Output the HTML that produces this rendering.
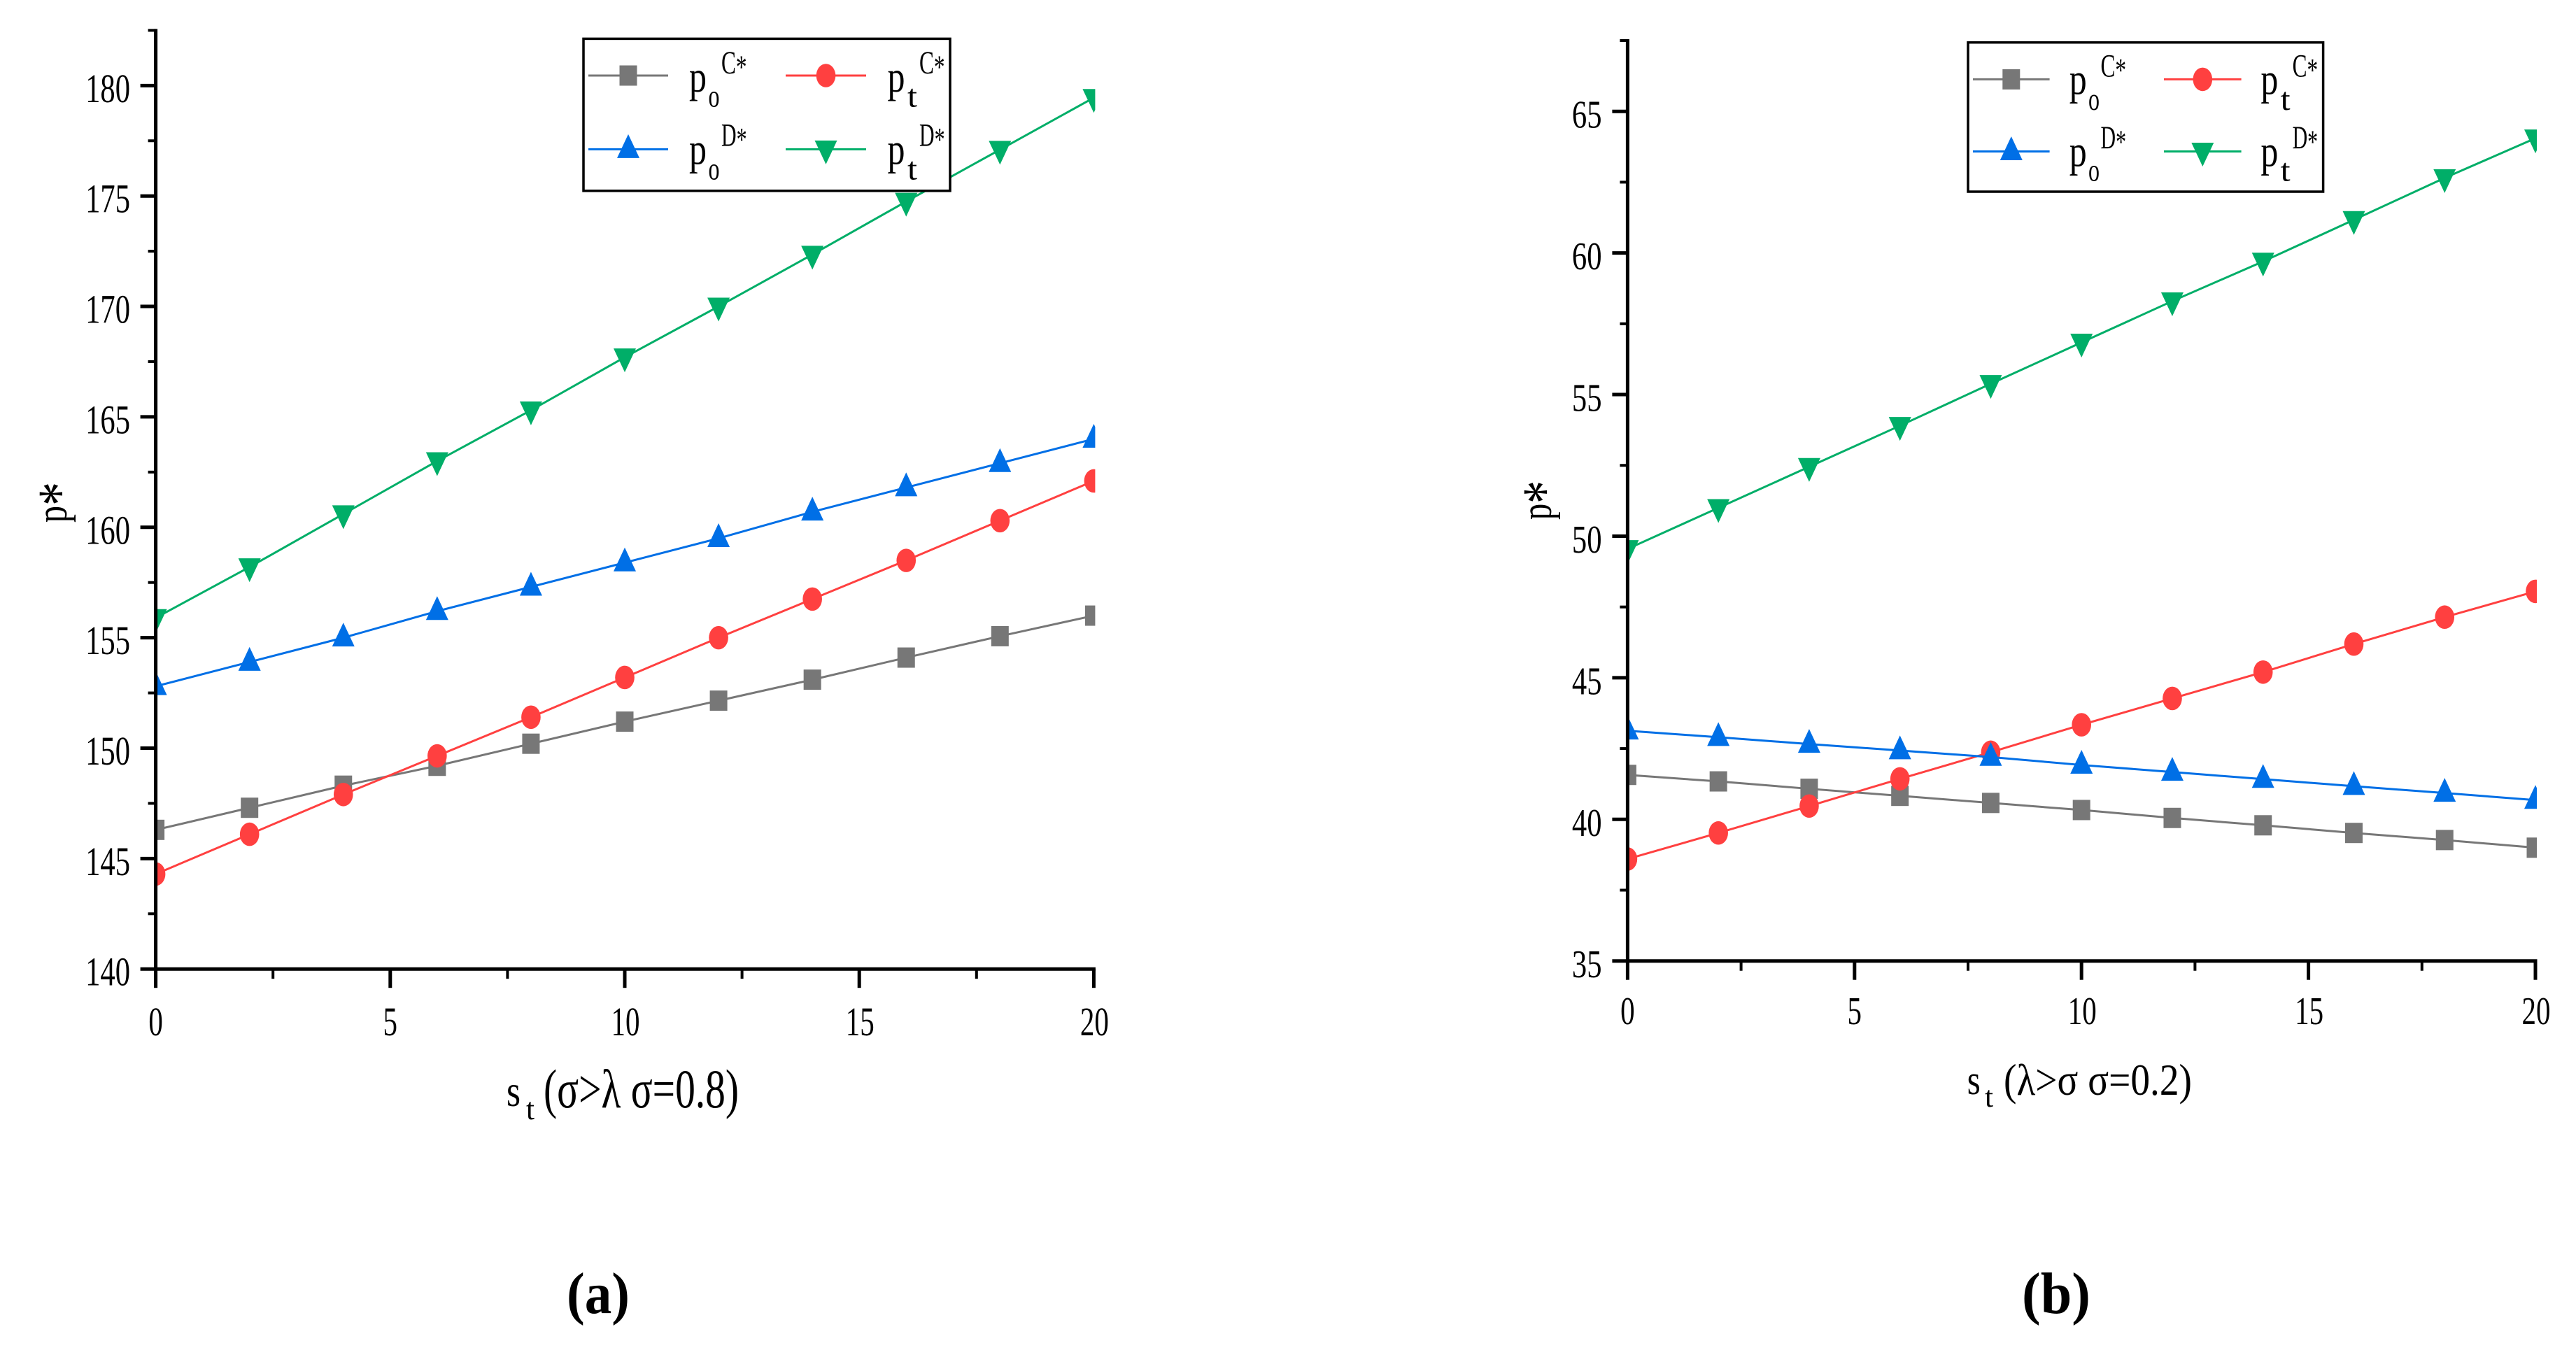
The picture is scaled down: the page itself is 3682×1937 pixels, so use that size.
<!DOCTYPE html>
<html lang="en">
<head>
<meta charset="utf-8">
<title>Optimal prices p* versus st</title>
<style>
html,body{margin:0;padding:0;background:#fff;}
body{width:3682px;height:1937px;overflow:hidden;}
svg{display:block;}
text{font-family:"Liberation Serif","DejaVu Serif",serif;fill:#000;}
</style>
</head>
<body>
<svg id="figure" xmlns="http://www.w3.org/2000/svg" width="3682" height="1937" viewBox="0 0 3682 1937">
<rect x="0" y="0" width="3682" height="1937" fill="#ffffff"></rect>
</svg>
<script>
const stValues = [0, 2, 4, 6, 8, 10, 12, 14, 16, 18, 20];

const panelAPoC = [146.3, 147.3, 148.3, 149.2, 150.2, 151.2, 152.15, 153.1, 154.1, 155.07, 156.0];
const panelAPtC = [144.3, 146.1, 147.9, 149.65, 151.4, 153.2, 155.0, 156.75, 158.5, 160.3, 162.1];
const panelAPoD = [152.8, 153.9, 155.0, 156.2, 157.3, 158.4, 159.5, 160.7, 161.8, 162.9, 164.0];
const panelAPtD = [155.9, 158.2, 160.6, 163.0, 165.3, 167.7, 170.0, 172.35, 174.75, 177.1, 179.45];

const panelBPoC = [41.57, 41.34, 41.08, 40.83, 40.58, 40.33, 40.05, 39.79, 39.52, 39.27, 39.0];
const panelBPtC = [38.6, 39.52, 40.47, 41.43, 42.37, 43.34, 44.27, 45.2, 46.19, 47.14, 48.05];
const panelBPoD = [43.13, 42.9, 42.66, 42.43, 42.2, 41.92, 41.67, 41.42, 41.17, 40.93, 40.68];
const panelBPtD = [49.55, 51.0, 52.45, 53.9, 55.38, 56.84, 58.3, 59.7, 61.17, 62.65, 64.05];

const panelAYTicks = [140, 145, 150, 155, 160, 165, 170, 175, 180];
const panelBYTicks = [35, 40, 45, 50, 55, 60, 65];
const panelXTicks = [0, 5, 10, 15, 20];

const panelAYMax = 182.5;
const panelBYMax = 67.5;

const svgNS = 'http://www.w3.org/2000/svg';
const figure = document.getElementById('figure');

const COLORS = { gray: '#777777', red: '#ff4040', blue: '#006fe6', green: '#00ae68' };

function make(tag, parent, attrs, name) {
  const el = document.createElementNS(svgNS, tag);
  for (const k in attrs) el.setAttribute(k, attrs[k]);
  
  
  parent.appendChild(el);
  return el;
}

function label(parent, str, x, y, size, length, anchor, name, extra) {
  const attrs = { x: x, y: y, 'font-size': size, 'text-anchor': anchor, textLength: length, lengthAdjust: 'spacingAndGlyphs' };
  if (extra) for (const k in extra) attrs[k] = extra[k];
  const t = make('text', parent, attrs, name);
  t.textContent = str;
  return t;
}

function starTspan(textEl, size, dy, name) {
  const s = make('tspan', textEl, { 'font-size': size, dy: dy }, name);
  s.textContent = '*';
  return s;
}

function marker(parent, kind, cx, cy, color, name) {
  if (kind === 'square') {
    make('rect', parent, { x: cx - 12.5, y: cy - 14.5, width: 25, height: 29, fill: color }, name);
  } else if (kind === 'circle') {
    make('ellipse', parent, { cx: cx, cy: cy, rx: 13.8, ry: 16.8, fill: color }, name);
  } else if (kind === 'up') {
    const pts = (cx - 16) + ',' + (cy + 12.5) + ' ' + (cx + 16) + ',' + (cy + 12.5) + ' ' + cx + ',' + (cy - 21.5);
    make('polygon', parent, { points: pts, fill: color }, name);
  } else {
    const pts = (cx - 16) + ',' + (cy - 12.5) + ' ' + (cx + 16) + ',' + (cy - 12.5) + ' ' + cx + ',' + (cy + 21.5);
    make('polygon', parent, { points: pts, fill: color }, name);
  }
}

function drawPanel(p) {
  const g = make('g', figure, {}, p.id);
  const xScale = v => p.xl + (v - stValues[0]) * (p.xr - p.xl) / (stValues[stValues.length - 1] - stValues[0]);
  const yScale = v => p.yb - (v - p.yTicks[0]) * (p.yb - p.yt) / (p.yMax - p.yTicks[0]);

  const clipId = p.id + '-clip';
  const defs = make('defs', g, {}, p.id + '-defs');
  const clip = make('clipPath', defs, { id: clipId }, p.id + '-clip-region');
  make('rect', clip, { x: p.xl, y: 0, width: p.xr - p.xl + 2, height: 1937 }, p.id + '-clip-rect');

  const plot = make('g', g, { 'clip-path': 'url(#' + clipId + ')' }, p.id + '-plot-area');
  p.series.forEach(s => {
    const sg = make('g', plot, {}, p.id + '-series-' + s.key);
    const pts = stValues.map((st, i) => xScale(st).toFixed(2) + ',' + yScale(s.values[i]).toFixed(2)).join(' ');
    make('polyline', sg, { points: pts, fill: 'none', stroke: s.color, 'stroke-width': 3 }, s.key + '-line');
    stValues.forEach((st, i) => {
      marker(sg, s.kind, xScale(st), yScale(s.values[i]), s.color, s.key + '-point-' + st);
    });
  });

  // Axes
  const axes = make('g', g, {}, p.id + '-axes');
  make('line', axes, { x1: p.xl, y1: p.yt - 2, x2: p.xl, y2: p.yb + 2.5, stroke: '#000', 'stroke-width': 5 }, 'y-axis-line');
  make('line', axes, { x1: p.xl - 2.5, y1: p.yb, x2: p.xr + 2.5, y2: p.yb, stroke: '#000', 'stroke-width': 5 }, 'x-axis-line');

  p.yTicks.forEach((v, i) => {
    const y = yScale(v);
    make('line', axes, { x1: p.xl - 22, y1: y, x2: p.xl, y2: y, stroke: '#000', 'stroke-width': 5 }, 'y-tick-' + v);
    label(axes, String(v), p.yLabelRight, y + 23.5, p.tickFont, String(v).length * 21.3, 'end', 'y-tick-label-' + v);
    const next = i + 1 < p.yTicks.length ? p.yTicks[i + 1] : p.yMax + (p.yMax - v);
    const mid = (v + next) / 2;
    const ym = yScale(mid);
    make('line', axes, { x1: p.xl - 11, y1: ym, x2: p.xl, y2: ym, stroke: '#000', 'stroke-width': 4 }, 'y-minor-tick-' + mid);
  });

  panelXTicks.forEach((v, i) => {
    const x = xScale(v);
    make('line', axes, { x1: x, y1: p.yb, x2: x, y2: p.yb + 27, stroke: '#000', 'stroke-width': 5 }, 'x-tick-' + v);
    label(axes, String(v), x + (v >= 10 ? 1 : 0), p.xLabelBase, p.tickFont, String(v).length * 20.5, 'middle', 'x-tick-label-' + v);
    if (i + 1 < panelXTicks.length) {
      const mid = (v + panelXTicks[i + 1]) / 2;
      const xm = xScale(mid);
      make('line', axes, { x1: xm, y1: p.yb, x2: xm, y2: p.yb + 14, stroke: '#000', 'stroke-width': 4 }, 'x-minor-tick-' + mid);
    }
  });

  // Axis titles
  const xt = make('g', g, {}, 'x-axis-title');
  label(xt, 's', p.xTitle.sx, p.xTitle.sBase, p.xTitle.sSize, p.xTitle.sLen, 'start', 'x-title-s');
  label(xt, 't', p.xTitle.tx, p.xTitle.tBase, p.xTitle.tSize, p.xTitle.tLen, 'start', 'x-title-subscript-t');
  label(xt, p.xTitle.text, p.xTitle.px, p.xTitle.pBase, p.xTitle.pSize, p.xTitle.pLen, 'start', 'x-title-condition');

  const yTitle = label(g, 'p', 0, 0, 62, p.yTitleLen, 'middle', 'y-axis-title', { transform: 'translate(' + p.yTitleX + ',' + p.yTitleY + ') rotate(-90)' });
  starTspan(yTitle, 88, p.yTitleStarDy, 'y-axis-title-star');

  // Legend
  const L = p.legend;
  const lg = make('g', g, {}, 'legend');
  make('rect', lg, { x: L.left, y: L.top, width: L.right - L.left, height: L.bottom - L.top, fill: '#fff', stroke: '#000', 'stroke-width': 3.5 }, 'legend-box');
  L.entries.forEach(e => {
    const eg = make('g', lg, {}, 'legend-entry-' + e.key);
    make('line', eg, { x1: e.x1, y1: e.y, x2: e.x2, y2: e.y, stroke: e.color, 'stroke-width': 3 }, 'legend-line-' + e.key);
    marker(eg, e.kind, (e.x1 + e.x2) / 2, e.y, e.color, 'legend-marker-' + e.key);
    label(eg, 'p', e.px, e.pBase, 63, 25, 'start', 'legend-label-p-' + e.key);
    label(eg, e.sub, e.subx, e.subBase, 46, e.subLen, 'start', 'legend-label-sub-' + e.key);
    const sup = label(eg, e.sup, e.supx, e.supBase, 47, e.supLen, 'start', 'legend-label-sup-' + e.key);
    starTspan(sup, 47, 6, 'legend-label-star-' + e.key);
  });

  label(g, p.caption, p.captionX, 1877, 84, p.captionLen, 'start', 'panel-caption', { 'font-weight': 'bold' });
}

function legendEntries(c) {
  const rows = [
    { key: 'po-c', sub: 'o', sup: 'C', kind: 'square', color: COLORS.gray, col: 0, row: 0 },
    { key: 'pt-c', sub: 't', sup: 'C', kind: 'circle', color: COLORS.red, col: 1, row: 0 },
    { key: 'po-d', sub: 'o', sup: 'D', kind: 'up', color: COLORS.blue, col: 0, row: 1 },
    { key: 'pt-d', sub: 't', sup: 'D', kind: 'down', color: COLORS.green, col: 1, row: 1 }
  ];
  return rows.map(r => ({
    key: r.key, sub: r.sub, sup: r.sup, kind: r.kind, color: r.color,
    x1: c.lineX[r.col][0], x2: c.lineX[r.col][1], y: c.lineY[r.row],
    px: c.pX[r.col], pBase: c.pBase[r.row],
    subx: c.subX[r.col], subBase: c.subBase[r.row], subLen: r.sub === 'o' ? 16 : 14,
    supx: c.supX[r.col], supBase: c.supBase[r.row], supLen: 36.5
  }));
}

drawPanel({
  id: 'panel-a',
  xl: 222.6, xr: 1563.4, yb: 1385.2, yt: 43.4,
  yTicks: panelAYTicks, yMax: panelAYMax,
  yLabelRight: 186, xLabelBase: 1480, tickFont: 58,
  yTitleX: 94.5, yTitleY: 718, yTitleLen: 58, yTitleStarDy: 20,
  caption: '(a)', captionX: 810, captionLen: 90,
  xTitle: { text: '(σ>λ σ=0.8)', sx: 724, sBase: 1581, sSize: 64, sLen: 20, tx: 752, tBase: 1600, tSize: 44, tLen: 12, px: 777, pBase: 1583, pSize: 78, pLen: 279 },
  series: [
    { key: 'po-c', values: panelAPoC, color: COLORS.gray, kind: 'square' },
    { key: 'pt-c', values: panelAPtC, color: COLORS.red, kind: 'circle' },
    { key: 'po-d', values: panelAPoD, color: COLORS.blue, kind: 'up' },
    { key: 'pt-d', values: panelAPtD, color: COLORS.green, kind: 'down' }
  ],
  legend: {
    left: 834, right: 1358, top: 55.4, bottom: 272.8,
    entries: legendEntries({
      lineX: [[841, 955], [1123, 1238]], lineY: [108, 213.4],
      pX: [985, 1268.5], pBase: [131, 234.4],
      subX: [1012.5, 1297], subBase: [152.7, 256.7],
      supX: [1031, 1314], supBase: [105, 208.5]
    })
  }
});

drawPanel({
  id: 'panel-b',
  xl: 2326.4, xr: 3624, yb: 1373.7, yt: 58,
  yTicks: panelBYTicks, yMax: panelBYMax,
  yLabelRight: 2289.5, xLabelBase: 1464, tickFont: 56,
  yTitleX: 2216.5, yTitleY: 715, yTitleLen: 56, yTitleStarDy: 20,
  caption: '(b)', captionX: 2890, captionLen: 98,
  xTitle: { text: '(λ>σ σ=0.2)', sx: 2811.7, sBase: 1564, sSize: 60, sLen: 19, tx: 2837, tBase: 1582, tSize: 42, tLen: 12, px: 2864, pBase: 1565, pSize: 64, pLen: 269 },
  series: [
    { key: 'po-c', values: panelBPoC, color: COLORS.gray, kind: 'square' },
    { key: 'pt-c', values: panelBPtC, color: COLORS.red, kind: 'circle' },
    { key: 'po-d', values: panelBPoD, color: COLORS.blue, kind: 'up' },
    { key: 'pt-d', values: panelBPtD, color: COLORS.green, kind: 'down' }
  ],
  legend: {
    left: 2813, right: 3320.6, top: 60.7, bottom: 274,
    entries: legendEntries({
      lineX: [[2820, 2929.6], [3093, 3203.6]], lineY: [113.4, 216.5],
      pX: [2957.7, 3231.4], pBase: [134.5, 237.5],
      subX: [2985, 3259.7], subBase: [157, 258.5],
      supX: [3002.5, 3276.6], supBase: [109.4, 212]
    })
  }
});
</script>
</body>
</html>
